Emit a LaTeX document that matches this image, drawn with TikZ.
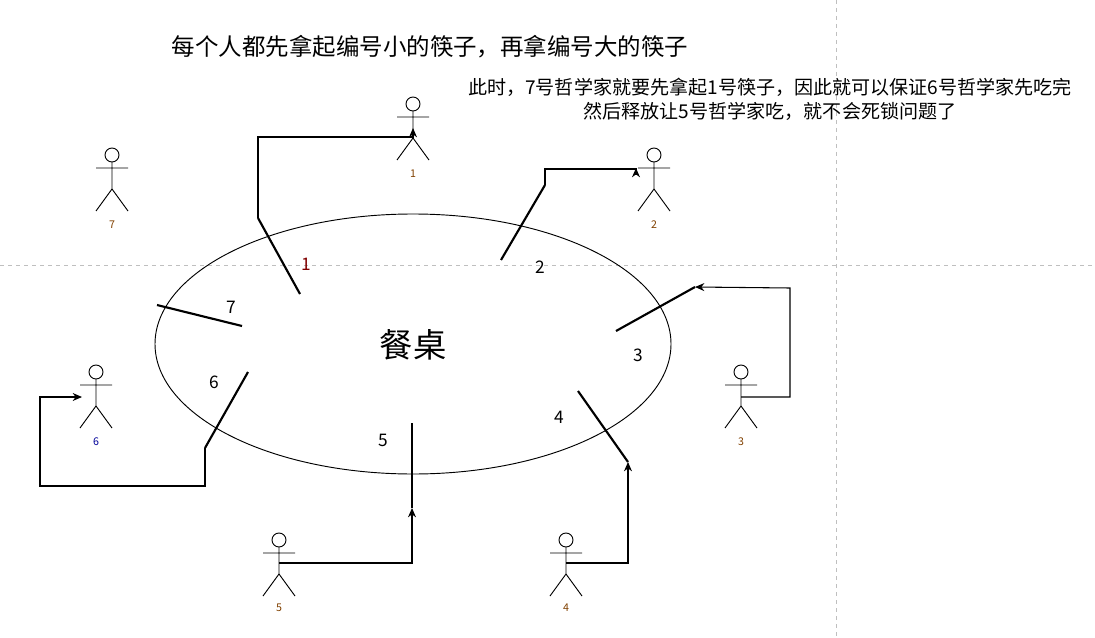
\documentclass[tikz,border=0pt]{standalone}
\usepackage{fontspec}
\setmainfont{Noto Sans CJK SC}
\usetikzlibrary{arrows.meta}
\begin{document}
\begin{tikzpicture}[x=0.75pt,y=-0.75pt,
  stick/.style={line width=1.6pt},
  conn/.style={line width=0.8pt,-{Stealth[length=7pt,width=6pt]}},
  num/.style={font=\fontsize{13pt}{13pt}\selectfont},
  small/.style={font=\fontsize{8pt}{8pt}\selectfont},
  pics/man/.style={code={
    \draw[line width=0.7pt] (0,0) circle (7);
    \draw[line width=0.7pt] (-16,13)--(16,13) (0,7)--(0,34) (-16,56)--(0,34)--(16,56);
  }}]
\useasboundingbox (0,0) rectangle (1095,638);
\draw[gray!50,dashed] (0,265)--(1095,265) (836,0)--(836,638);
\node[font=\fontsize{17.6pt}{17.6pt}\selectfont] (title) at (430,47) {每个人都先拿起编号小的筷子，再拿编号大的筷子};
\node[font=\fontsize{14.3pt}{18pt}\selectfont,align=center] (note) at (770,99) {此时，7号哲学家就要先拿起1号筷子，因此就可以保证6号哲学家先吃完\\然后释放让5号哲学家吃，就不会死锁问题了};
\draw[line width=0.7pt] (413,344) ellipse [x radius=258, y radius=130];
\node[font=\fontsize{25pt}{25pt}\selectfont] (table) at (413,345) {餐桌};
% chopsticks
\coordinate (c1a) at (258,218); \coordinate (c1b) at (300,294);
\coordinate (c2a) at (545,185); \coordinate (c2b) at (501,260);
\coordinate (c3a) at (616,331); \coordinate (c3b) at (695,287);
\coordinate (c4a) at (578,391); \coordinate (c4b) at (628,462);
\coordinate (c5a) at (412,423); \coordinate (c5b) at (412,508);
\coordinate (c6a) at (248,372); \coordinate (c6b) at (205,448);
\coordinate (c7a) at (157,305); \coordinate (c7b) at (242,326);
\foreach \i in {1,...,7} \draw[stick] (c\i a)--(c\i b);
\node[num,text=red!50!black] (n1) at (306,264) {1};
\node[num] (n2) at (540,267) {2};
\node[num] (n3) at (638,355) {3};
\node[num] (n4) at (559,417) {4};
\node[num] (n5) at (383,440) {5};
\node[num] (n6) at (214,382) {6};
\node[num] (n7) at (231,307) {7};
% philosophers
\pic at (413,104) {man}; \pic at (654,155) {man}; \pic at (112,155) {man};
\pic at (741,372) {man}; \pic at (96,372) {man}; \pic at (279,540) {man}; \pic at (566,540) {man};
\node[small,text=orange!50!black] (p1) at (413,174) {1};
\node[small,text=orange!50!black] (p2) at (654,225) {2};
\node[small,text=orange!50!black] (p7) at (112,225) {7};
\node[small,text=orange!50!black] (p3) at (741,442) {3};
\node[small,text=blue!60!black] (p6) at (96,442) {6};
\node[small,text=orange!50!black] (p5) at (279,608) {5};
\node[small,text=orange!50!black] (p4) at (566,608) {4};
\coordinate (f1) at (413,128); \coordinate (f2) at (636,168);
\coordinate (f3) at (741,397); \coordinate (f4) at (566,563);
\coordinate (f5) at (279,563); \coordinate (f6) at (82,397);
% connectors
\draw[conn] (c1a)--(258,137)--(413,137)--(f1);
\draw[conn] (c2a)--(545,169)--(636,169)--(636,175)--(f2);
\draw[conn] (f3)--(790,397)--(790,288)--(c3b);
\draw[conn] (f4)--(628,563)--(c4b);
\draw[conn] (f5)--(412,563)--(c5b);
\draw[conn] (c6b)--(205,486)--(40,486)--(40,397)--(f6);
\end{tikzpicture}
\end{document}
